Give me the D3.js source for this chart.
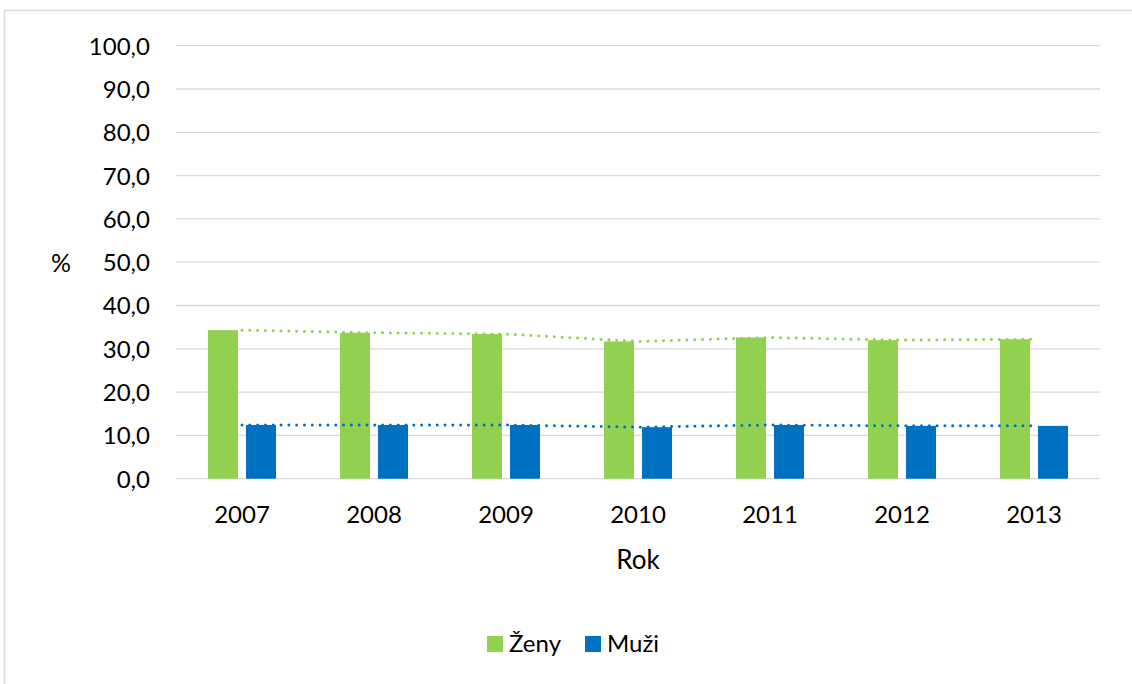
<!DOCTYPE html>
<html>
<head>
<meta charset="utf-8">
<script src="https://cdn.jsdelivr.net/npm/d3@7"></script>
<style>
  body { margin: 0; background: #fff; }
  text { font-family: Lato, "Open Sans", sans-serif; fill: #000; }
</style>
</head>
<body>
<script>
const years = ["2007", "2008", "2009", "2010", "2011", "2012", "2013"];
const seriesNames = ["Ženy", "Muži"];
const zeny = [34.3, 33.7, 33.4, 31.7, 32.6, 32.0, 32.2];
const muzi = [12.4, 12.4, 12.4, 11.9, 12.4, 12.2, 12.2];
const yTicks = [0, 10, 20, 30, 40, 50, 60, 70, 80, 90, 100];
const colors = ["#92d050", "#0070c0"];

function main() {
  const width = 1132, height = 684;
  const series = [zeny, muzi];

  const svg = d3.select("body")
    .append("svg")
    .attr("width", width)
    .attr("height", height);

  // chart frame
  svg.append("rect")
    .attr("x", 4.5).attr("y", 10.5)
    .attr("width", 1140).attr("height", 700)
    .attr("fill", "none")
    .attr("stroke", "#d9d9d9")
    .attr("stroke-width", 1.5);

  const x = d3.scaleBand().domain(years).range([176, 1100]);
  const xs = d3.scaleBand().domain(seriesNames).range([32, 100]).paddingInner(8 / 38);
  const y = d3.scaleLinear().domain([0, 100]).range([478.7, 45.7]);

  const czech = d3.formatLocale({decimal: ",", thousands: " ", grouping: [3], currency: ["", " Kč"]});
  const fmt = czech.format(".1f");

  // gridlines
  svg.append("g")
    .selectAll("line")
    .data(yTicks)
    .join("line")
    .attr("x1", 176).attr("x2", 1100)
    .attr("y1", d => y(d)).attr("y2", d => y(d))
    .attr("stroke", "#d9d9d9")
    .attr("stroke-width", 1.3);

  const yAxis = svg.append("g")
    .attr("transform", "translate(176,0)")
    .call(d3.axisLeft(y).tickValues(yTicks).tickFormat(fmt).tickSize(0).tickPadding(26));
  yAxis.select(".domain").remove();
  yAxis.selectAll("text").style("font-size", "24px").attr("font-family", null).attr("dy", "0.35em");

  const xAxis = svg.append("g")
    .attr("transform", "translate(0,478.7)")
    .call(d3.axisBottom(x).tickSize(0).tickPadding(27));
  xAxis.select(".domain").remove();
  xAxis.selectAll("text").style("font-size", "24px").attr("font-family", null);

  // bars
  series.forEach((vals, si) => {
    svg.append("g")
      .selectAll("rect")
      .data(vals)
      .join("rect")
      .attr("x", (d, i) => x(years[i]) + xs(seriesNames[si]))
      .attr("y", d => y(d))
      .attr("width", xs.bandwidth())
      .attr("height", d => y(0) - y(d))
      .attr("fill", colors[si]);
  });

  // dotted lines through the bar values
  const line = d3.line()
    .x((d, i) => x(years[i]) + x.bandwidth() / 2)
    .y(d => y(d));
  series.forEach((vals, si) => {
    svg.append("path")
      .datum(vals)
      .attr("d", line)
      .attr("fill", "none")
      .attr("stroke", colors[si])
      .attr("stroke-width", 3)
      .attr("stroke-linecap", "round")
      .attr("stroke-dasharray", "0.01 7.8");
  });

  // axis titles
  svg.append("text")
    .attr("x", 61).attr("y", 272)
    .attr("text-anchor", "middle")
    .style("font-size", "25px")
    .text("%");
  svg.append("text")
    .attr("x", 638).attr("y", 569)
    .attr("text-anchor", "middle")
    .style("font-size", "26px")
    .text("Rok");

  // legend
  const legendX = [487, 585];
  const legend = svg.append("g")
    .selectAll("g")
    .data(seriesNames)
    .join("g")
    .attr("transform", (d, i) => `translate(${legendX[i]},636)`);
  legend.append("rect")
    .attr("width", 16).attr("height", 16)
    .attr("fill", (d, i) => colors[i]);
  legend.append("text")
    .attr("x", 22).attr("y", 16)
    .style("font-size", "24px")
    .text(d => d);
}

window.addEventListener("load", main);
</script>
</body>
</html>
